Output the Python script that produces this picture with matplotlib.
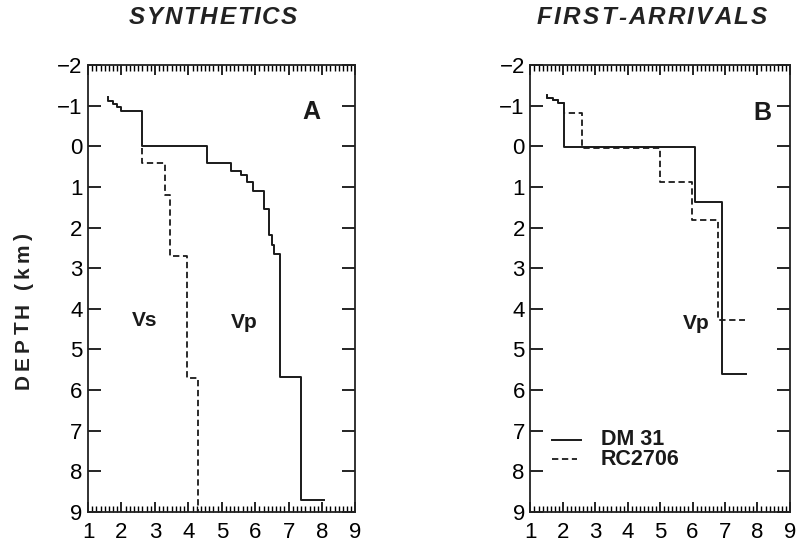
import numpy as np
import matplotlib
matplotlib.use("Agg")
import matplotlib.pyplot as plt
from matplotlib.ticker import MultipleLocator

plt.rcParams['font.family'] = ['Liberation Sans', 'DejaVu Sans']

# panel A (synthetics): Vp solid, Vs dashed -- layer velocity (km/s) and layer bottom depth (km)
vp_a_top = -1.21
vp_a_vel = [1.6, 1.75, 1.88, 2.0, 2.62, 4.55, 5.28, 5.58, 5.76, 5.92, 6.26, 6.4, 6.5, 6.57, 6.73, 7.38, 8.05]
vp_a_bot = [-1.12, -1.04, -0.96, -0.87, 0.0, 0.42, 0.62, 0.71, 0.89, 1.11, 1.55, 2.19, 2.44, 2.64, 5.67, 8.70, 8.70]

vs_a_top = 0.05
vs_a_vel = [2.6, 3.3, 3.45, 3.95, 4.28]
vs_a_bot = [0.42, 1.2, 2.71, 5.71, 9.0]

# panel B (first arrivals): DM 31 solid, RC 2706 dashed
dm31_top = -1.26
dm31_vel = [1.5, 1.7, 1.85, 2.04, 6.08, 6.9, 7.65]
dm31_bot = [-1.2, -1.13, -1.06, 0.02, 1.38, 5.6, 5.6]

rc2706_top = -1.26
rc2706_vel = [1.5, 1.7, 1.85, 2.04, 2.59, 4.99, 5.97, 6.8, 7.62]
rc2706_bot = [-1.2, -1.13, -1.06, -0.81, 0.05, 0.88, 1.82, 4.28, 4.28]

x_ticks = [1, 2, 3, 4, 5, 6, 7, 8, 9]
y_ticks = [-2, -1, 0, 1, 2, 3, 4, 5, 6, 7, 8, 9]

W, H = 797, 544


def step_profile(top, vel, bot):
    # vertical step path: down each layer, then across to the next velocity
    tops = [top] + list(bot[:-1])
    x = np.repeat(vel, 2)
    y = np.column_stack([tops, bot]).ravel()
    return x, y


def style_axes(ax):
    ax.set_xlim(1, 9)
    ax.set_ylim(9, -2)
    ax.set_xticks(x_ticks)
    ax.set_yticks(y_ticks)
    ax.xaxis.set_minor_locator(MultipleLocator(0.125))
    ax.tick_params(axis='x', which='major', direction='in', top=True, bottom=True,
                   length=7, width=1.2, labelsize=16, pad=7)
    ax.tick_params(axis='x', which='minor', direction='in', top=True, bottom=True,
                   length=4, width=1.0)
    ax.tick_params(axis='y', which='major', direction='in', left=True, right=True,
                   length=9.5, width=1.2, labelsize=16, pad=4)
    ax.tick_params(labeltop=False, labelright=False)
    for s in ax.spines.values():
        s.set_linewidth(1.3)
        s.set_color('#222222')


def spaced_text(fig, cx, cy, s, total_px, rotation=0, **kw):
    # letter-spaced text centred on (cx, cy) in pixels, stretched to total_px
    r = fig.canvas.get_renderer()
    widths = []
    for ch in s:
        t = fig.text(0, 0, ch, **kw)
        widths.append(t.get_window_extent(r).width)
        t.remove()
    gap = (total_px - sum(widths)) / (len(s) - 1)
    pos = -total_px / 2
    for ch, w in zip(s, widths):
        c = pos + w / 2
        if rotation == 90:
            fig.text(cx / W, 1 - (cy - c) / H, ch, rotation=90, ha='center', va='center', **kw)
        else:
            fig.text((cx + c) / W, 1 - cy / H, ch, ha='center', va='center', **kw)
        pos += w + gap


fig = plt.figure(figsize=(W / 100, H / 100), dpi=100)
axA = fig.add_axes([0.1105, 0.059, 0.3355, 0.8215])
axB = fig.add_axes([0.6655, 0.059, 0.3255, 0.8215])

lc = '#1a1a1a'
x, y = step_profile(vp_a_top, vp_a_vel, vp_a_bot)
axA.plot(x, y, color=lc, lw=1.4)
x, y = step_profile(vs_a_top, vs_a_vel, vs_a_bot)
axA.plot(x, y, color=lc, lw=1.3, dashes=(3.5, 2))
style_axes(axA)
axA.text(7.68, -0.84, 'A', fontsize=18, fontweight='bold', ha='center', va='center', color=lc)
axA.text(2.68, 4.29, 'Vs', fontsize=15, fontweight='bold', ha='center', va='center', color=lc)
axA.text(5.67, 4.33, 'Vp', fontsize=15, fontweight='bold', ha='center', va='center', color=lc)

x, y = step_profile(dm31_top, dm31_vel, dm31_bot)
axB.plot(x, y, color=lc, lw=1.4)
x, y = step_profile(rc2706_top, rc2706_vel, rc2706_bot)
axB.plot(x, y, color=lc, lw=1.3, dashes=(3.5, 2))
style_axes(axB)
axB.text(8.16, -0.81, 'B', fontsize=18, fontweight='bold', ha='center', va='center', color=lc)
axB.text(6.1, 4.36, 'Vp', fontsize=15, fontweight='bold', ha='center', va='center', color=lc)

# hand-drawn legend inside panel B
axB.plot([1.66, 2.57], [7.22, 7.22], color=lc, lw=1.4)
axB.plot([1.66, 2.45], [7.7, 7.7], color=lc, lw=1.3, dashes=(3.5, 2))
axB.text(3.17, 7.22, 'DM 31', fontsize=15.5, fontweight='bold', ha='left', va='center', color=lc)
axB.text(3.17, 7.72, 'RC2706', fontsize=15.5, fontweight='bold', ha='left', va='center', color=lc)

title_kw = dict(fontsize=17.5, fontweight='bold', style='italic', color='#222222')
spaced_text(fig, 213, 18, 'SYNTHETICS', 168, **title_kw)
spaced_text(fig, 652, 18, 'FIRST-ARRIVALS', 230, **title_kw)
spaced_text(fig, 23, 311, 'DEPTH (km)', 156, rotation=90,
            fontsize=15, fontweight='bold', color='#222222')

fig.savefig('out.png', dpi=100)
